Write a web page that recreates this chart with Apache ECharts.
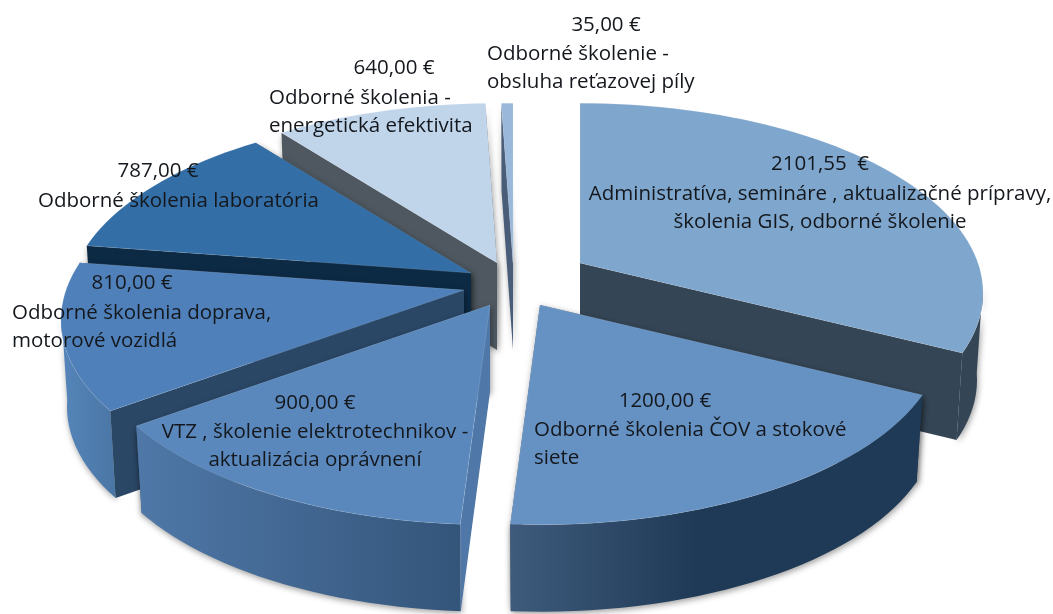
<!DOCTYPE html>
<html>
<head>
<meta charset="utf-8">
<style>html,body{margin:0;padding:0;background:#fff}#chart{width:1053px;height:614px}</style>
<script src="https://cdn.jsdelivr.net/npm/echarts@6/dist/echarts.min.js"></script>
</head>
<body>
<div id="chart"></div>
<script>
// hodnoty
const costs = [2101.55, 1200, 900, 810, 787, 640, 35]
const valueLabels = ['2101,55  €', '1200,00 €', '900,00 €', '810,00 €', '787,00 €', '640,00 €', '35,00 €']
const nameLines = [
  ['Administratíva, semináre , aktualizačné prípravy,', 'školenia GIS, odborné školenie'],
  ['Odborné školenia ČOV a stokové', 'siete'],
  ['VTZ , školenie elektrotechnikov -', 'aktualizácia oprávnení'],
  ['Odborné školenia doprava,', 'motorové vozidlá'],
  ['Odborné školenia laboratória'],
  ['Odborné školenia -', 'energetická efektivita'],
  ['Odborné školenie -', 'obsluha reťazovej píly'],
]

// rozlozenie kolaca
const center = [513, 285]
const radiusX = 398
const radiusY = 185
const perspective = 0.158
const depth = 87
const bottomScale = 0.985
const startAngle = 0
const explode = [[67, -22], [27, 20], [-23, 20], [-49, 5], [-42, -12], [-16, -22], [0, -22]]
// poradie kreslenia odzadu dopredu
const drawOrder = [5, 6, 4, 3, 0, 1, 2]
// predna cast steny, po dotykove body obrysu
const wallRange = [97, 263]

const topColors = ['#7fa6cd', '#6591c3', '#5a88bd', '#4f80ba', '#336ea6', '#c0d4ea', '#9ab8da']
const faceColors = ['#344555', '#2a4766', '#4f78a8', '#2a4766', '#0d2a45', '#4f5860', '#4a5d78']
const wallColors = [
  ['#344555', '#344555'],
  ['#3f5b7c', '#1f3a56'],
  ['#4f78a8', '#34557a'],
  ['#5585ba', '#4a76a5'],
  ['#0d2a45', '#0d2a45'],
  ['#4f5860', '#4f5860'],
  ['#4a5d78', '#4a5d78'],
]

// pozicie textov: [x, y hodnoty, x nazvu, y nazvu, zarovnanie nazvu]
const labelSpots = [
  [820, 164, 820, 194, 'center'],
  [665, 401, 534, 430, 'left'],
  [315, 403, 315, 432, 'center'],
  [132, 283, 12, 313, 'left'],
  [158, 171, 38, 201, 'left'],
  [394, 68, 269, 98, 'left'],
  [606, 25, 487, 54, 'left'],
]
const lineHeight = 28.5
const labelFont = '20.5px "Open Sans"'

const total = costs.reduce((a, b) => a + b, 0)
const toAngle = (v) => echarts.number.linearMap(v, [0, total], [startAngle, startAngle + 360])

function sliceAngles(i) {
  const before = costs.slice(0, i).reduce((a, b) => a + b, 0)
  return [toAngle(before), toAngle(before + costs[i])]
}

function rimPoint(i, deg, lower) {
  const t = (deg * Math.PI) / 180
  const u = Math.sin(t)
  const v = -Math.cos(t)
  const s = 1 / (1 - perspective * v)
  const ax = center[0] + explode[i][0]
  const ay = center[1] + explode[i][1]
  const dx = radiusX * u * s
  const dy = radiusY * v * s
  return lower ? [ax + dx * bottomScale, ay + dy + depth] : [ax + dx, ay + dy]
}

function apex(i, lower) {
  const ax = center[0] + explode[i][0]
  const ay = center[1] + explode[i][1]
  return lower ? [ax, ay + depth] : [ax, ay]
}

function arcPoints(i, from, to, lower) {
  const n = Math.max(2, Math.ceil(Math.abs(to - from) / 2))
  const pts = []
  for (let k = 0; k <= n; k++) pts.push(rimPoint(i, from + ((to - from) * k) / n, lower))
  return pts
}

const edgeShadow = {shadowBlur: 6, shadowColor: 'rgba(0,0,0,0.4)', shadowOffsetX: 1, shadowOffsetY: 2}

function renderSlice(params, api) {
  const i = api.value(1)
  const [a0, a1] = sliceAngles(i)
  const base = params.dataIndex * 10
  const children = []
  const w0 = Math.max(a0, wallRange[0])
  const w1 = Math.min(a1, wallRange[1])
  const hasWall = w1 > w0
  const face = (deg, z, extra) => ({
    type: 'polygon',
    z2: base + z,
    silent: true,
    shape: {points: [apex(i), rimPoint(i, deg), rimPoint(i, deg, true), apex(i, true)]},
    style: {fill: faceColors[i], ...extra},
  })
  // rezna plocha smerom k divakovi ide az po stene, odvratena pred nou
  const sin = (deg) => Math.sin((deg * Math.PI) / 180)
  const seen = hasWall ? {} : edgeShadow
  children.push(face(a1, sin(a1) > 0 ? 2 : 0, sin(a1) > 0 ? seen : edgeShadow))
  children.push(face(a0, sin(a0) < 0 ? 2 : 0, sin(a0) < 0 ? seen : edgeShadow))

  if (hasWall) {
    const upper = arcPoints(i, w0, w1)
    const lower = arcPoints(i, w0, w1, true).reverse()
    const left = a0 > 180
    children.push({
      type: 'polygon',
      z2: base + 1,
      silent: true,
      shape: {points: upper.concat(lower)},
      style: {
        fill: new echarts.graphic.LinearGradient(0, 0, 1, 0, [
          {offset: 0, color: wallColors[i][0]},
          {offset: left ? 1 : 0.45, color: wallColors[i][1]},
          {offset: 1, color: wallColors[i][1]},
        ]),
        ...edgeShadow,
      },
    })
  }

  children.push({
    type: 'polygon',
    z2: base + 3,
    silent: true,
    shape: {points: [apex(i)].concat(arcPoints(i, a0, a1))},
    style: {fill: topColors[i], stroke: 'rgba(255,255,255,0.12)', lineWidth: 1},
  })
  return {type: 'group', children}
}

function renderLabel(params, api) {
  const i = api.value(1)
  const spot = labelSpots[i]
  const text = (str, x, y, align) => ({
    type: 'text',
    z2: 500,
    silent: true,
    x,
    y,
    style: {text: str, font: labelFont, fill: '#14181d', align, verticalAlign: 'middle'},
  })
  const children = [text(valueLabels[i], spot[0], spot[1], 'center')]
  nameLines[i].forEach((line, k) => {
    children.push(text(line, spot[2], spot[3] + k * lineHeight, spot[4]))
  })
  return {type: 'group', children}
}

const chart = echarts.init(document.getElementById('chart'), null, {renderer: 'canvas'})
chart.setOption({
  backgroundColor: '#ffffff',
  animation: false,
  series: [
    {
      type: 'custom',
      coordinateSystem: 'none',
      renderItem: renderSlice,
      data: drawOrder.map((i) => [costs[i], i]),
    },
    {
      type: 'custom',
      coordinateSystem: 'none',
      z: 5,
      renderItem: renderLabel,
      data: costs.map((c, i) => [c, i]),
    },
  ],
})
</script>
</body>
</html>
